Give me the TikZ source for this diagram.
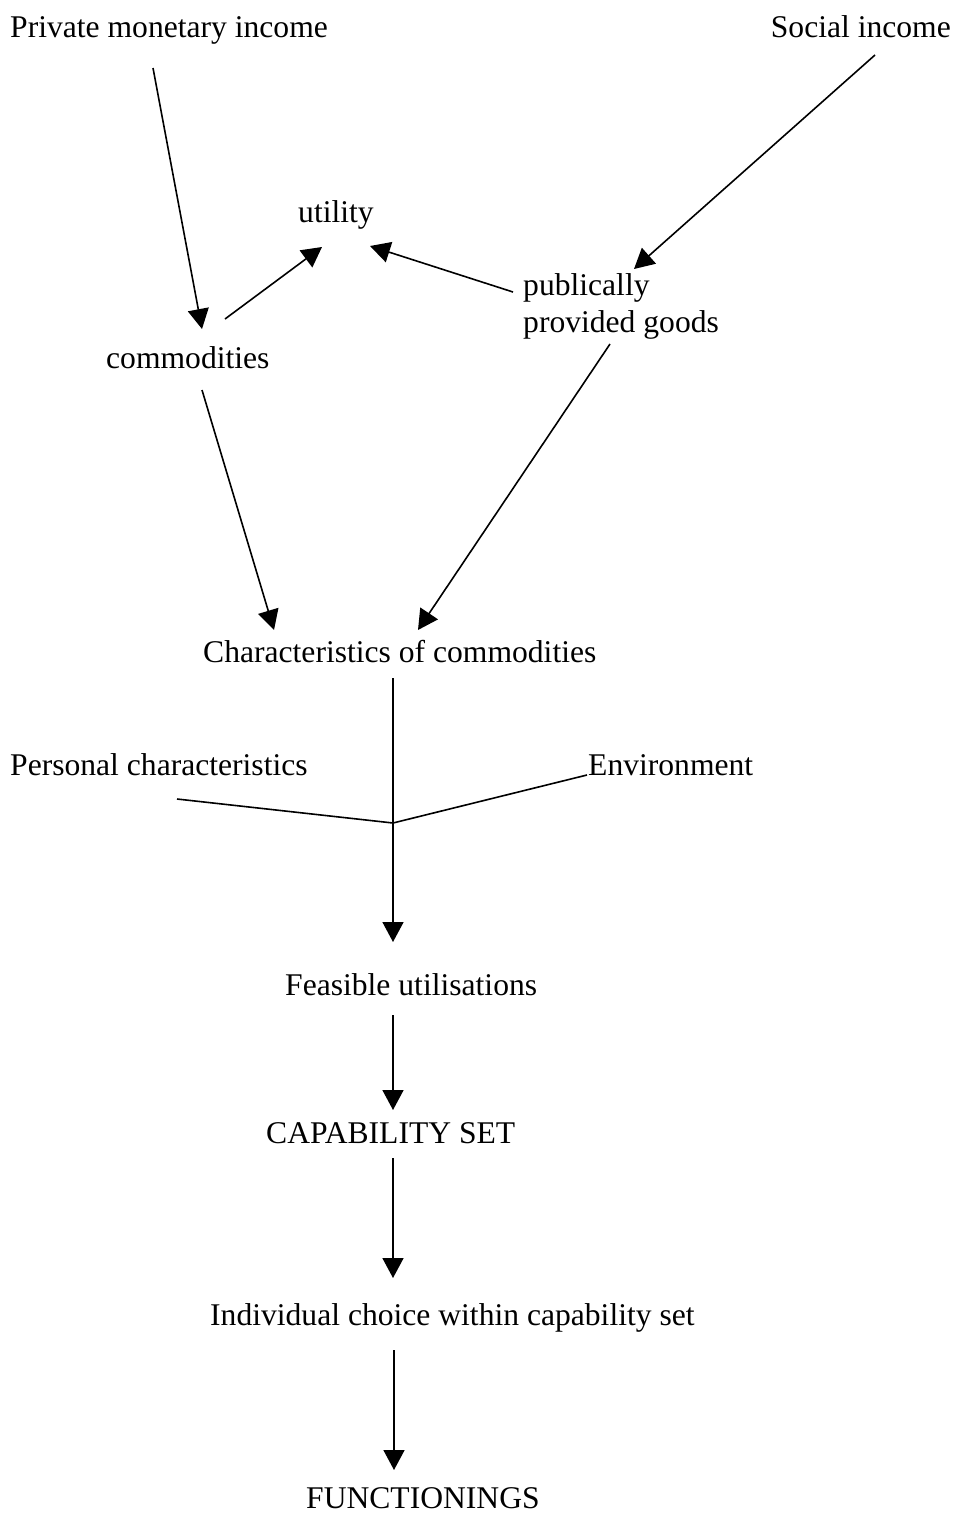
\documentclass[tikz,border=0pt]{standalone}
\usepackage{fontspec}
\setmainfont{Liberation Serif}
\usetikzlibrary{arrows.meta,calc}
\begin{document}
\begin{tikzpicture}[x=1pt,y=-1pt,
  lbl/.style={anchor=base west,inner sep=0pt,font=\fontsize{31.6}{37}\selectfont},
  arr/.style={line width=1.6pt,-{Triangle[length=20pt,width=21pt]}},
  ln/.style={line width=1.6pt}]
\useasboundingbox (0,0) rectangle (959,1515);
\node[lbl] (pmi) at (10,37) {Private monetary income};
\node[lbl,anchor=base east] (soc) at (951,37) {Social income};
\node[lbl] (util) at (298,222) {utility};
\node[lbl] (pub) at (523,295) {\vtop{\baselineskip=37pt\hbox{publically}\hbox{provided goods}}};
\node[lbl] (comm) at (106,368) {commodities};
\node[lbl] (char) at (203,662) {Characteristics of commodities};
\node[lbl] (pers) at (10,775) {Personal characteristics};
\node[lbl] (env) at (588,775) {Environment};
\node[lbl] (feas) at (285,995) {Feasible utilisations};
\node[lbl] (cap) at (266,1143) {CAPABILITY SET};
\node[lbl] (indiv) at (210,1325) {Individual choice within capability set};
\node[lbl] (func) at (306,1508) {FUNCTIONINGS};
\coordinate (j) at (393,823);
\draw[arr] ($(pmi.base west)+(143,31)$) -- ($(comm.base west)+(96,-39)$);
\draw[arr] ($(comm.base west)+(119,-49)$) -- ($(util.base west)+(24,25)$);
\draw[arr] ($(pub.base west)+(-10,-3)$) -- ($(util.base west)+(72,24)$);
\draw[arr] ($(soc.base east)+(-76,18)$) -- ($(pub.base west)+(111,-26)$);
\draw[arr] ($(comm.base west)+(96,22)$) -- ($(char.base west)+(71,-32)$);
\draw[arr] ($(pub.base west)+(87,49)$) -- ($(char.base west)+(215,-32)$);
\draw[arr] ($(char.base west)+(190,16)$) -- ($(feas.base west)+(108,-53)$);
\draw[ln] ($(pers.base west)+(167,24)$) -- (j) -- ($(env.base west)+(-1,0)$);
\draw[arr] ($(feas.base west)+(108,20)$) -- ($(cap.base west)+(127,-33)$);
\draw[arr] ($(cap.base west)+(127,15)$) -- ($(indiv.base west)+(183,-47)$);
\draw[arr] ($(indiv.base west)+(184,25)$) -- ($(func.base west)+(88,-38)$);
\end{tikzpicture}
\end{document}
